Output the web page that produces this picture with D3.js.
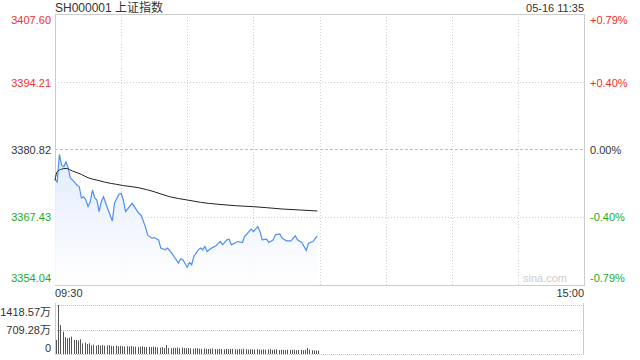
<!DOCTYPE html>
<html><head><meta charset="utf-8">
<script src="https://cdn.jsdelivr.net/npm/d3@7"></script>
<style>
html,body{margin:0;padding:0;background:#fff;}
svg{display:block;font-family:"Liberation Sans",Arial,"Noto Sans CJK SC",sans-serif;}
</style></head>
<body><svg id="c" width="640" height="360"></svg>
<script>
// ---- data ----
const title = "SH000001 上证指数";
const stamp = "05-16 11:35";
const prevClose = 3380.82;
const priceTicks = [3407.60, 3394.21, 3380.82, 3367.43, 3354.04];
const pctTicks = ["+0.79%", "+0.40%", "0.00%", "-0.40%", "-0.79%"];
const timeTicks = ["09:30", "15:00"];
const volTicks = [1418.57, 709.28, 0];
const volTickLabels = ["1418.57万", "709.28万", "0"];

// minute offsets from 09:30 and index price
const priceMinutes = [0,1,2,3,4,5,6,7,8,10,11,12,13,14,15,16,17,18,19,20,21,22,23,26,27,29,30,31,32,35,36,38,39,41,42,44,45,47,48,50,51,53,54,56,57,58,60,61,62,63,65,66,67,68,69,71,73,75,76,78,79,80,82,83,85,86,88,89,90,92,93,94,96,97,99,100,102,103,105,107,109,110,112,114,115,117,119];
const prices = [3374.97,3374.38,3379.84,3377.73,3377.39,3378.38,3377.14,3375.17,3374.77,3373.79,3373.46,3371.23,3371.49,3370.84,3369.52,3370.50,3372.81,3371.23,3370.84,3368.53,3370.50,3371.49,3370.19,3366.70,3370.19,3371.96,3372.16,3370.84,3368.53,3370.19,3369.52,3368.22,3367.88,3365.58,3363.95,3363.30,3363.41,3362.96,3361.33,3360.99,3361.33,3360.34,3359.67,3358.37,3359.22,3359.02,3357.55,3358.49,3358.04,3359.67,3360.99,3361.33,3360.99,3361.64,3360.66,3361.33,3361.78,3362.63,3361.98,3362.96,3363.10,3361.98,3362.43,3362.63,3362.43,3363.61,3364.60,3365.07,3364.60,3365.58,3364.60,3362.96,3363.10,3362.43,3362.96,3363.95,3364.14,3363.30,3362.76,3362.76,3363.75,3362.96,3362.43,3360.85,3362.31,3362.63,3363.75];

// average price line
const avgMinutes = [0,1,3,5,8,12,15,19,23,28,31,38,45,52,60,66,74,82,90,96,103,111,119];
const avgPrices = [3374.77,3376.41,3376.94,3377.08,3376.55,3375.90,3375.23,3374.77,3374.32,3373.93,3373.69,3373.26,3372.47,3371.49,3370.84,3370.38,3369.99,3369.71,3369.52,3369.32,3369.06,3368.87,3368.67];

// per-minute volume (万)
const volumes = [405,1418.57,840,646,483,454,473,502,405,405,386,425,309,328,290,310,
250,270,240,260,245,265,240,250,255,235,230,245,225,235,230,
215,225,220,235,210,215,205,210,225,205,200,210,200,215,205,
190,185,200,175,260,170,165,180,175,185,170,190,175,165,170,
160,150,165,170,155,150,160,150,145,155,160,145,140,150,145,
135,150,140,145,150,140,130,145,135,150,140,125,140,135,130,
140,130,120,135,125,130,140,120,125,135,115,125,120,110,125,
115,120,125,110,115,125,110,120,175,130,110,105,100,95];

// ---- drawing ----
const svg = d3.select("#c");
const L = 55, R = 584, T = 14, B = 285;
const VT = 305, VB = 354;
const red = "#f0302a", green = "#1ea91e", dark = "#333";

const x = d3.scaleLinear().domain([0, 240]).range([L, R]);
const y = d3.scaleLinear().domain([priceTicks[4], priceTicks[0]]).range([B, T]);
const yv = d3.scaleLinear().domain([0, volTicks[0]]).range([VB, VT]);

const defs = svg.append("defs");
const grad = defs.append("linearGradient").attr("id", "fillg").attr("x1", 0).attr("y1", 0).attr("x2", 0).attr("y2", 1);
grad.append("stop").attr("offset", "0%").attr("stop-color", "#dfe9fd").attr("stop-opacity", 0.9);
grad.append("stop").attr("offset", "100%").attr("stop-color", "#ffffff").attr("stop-opacity", 0.9);

// vertical gridlines
const gridMins = d3.range(30, 240, 30);
svg.append("g").selectAll("line").data(gridMins).join("line")
  .attr("x1", d => Math.round(x(d)) + 0.5).attr("x2", d => Math.round(x(d)) + 0.5)
  .attr("y1", T).attr("y2", B)
  .attr("stroke", "#cfcfcf").attr("stroke-dasharray", "1,2");

// horizontal gridlines
svg.append("g").selectAll("line").data(priceTicks.slice(1, 4)).join("line")
  .attr("x1", L).attr("x2", R)
  .attr("y1", d => Math.round(y(d)) + 0.5).attr("y2", d => Math.round(y(d)) + 0.5)
  .attr("stroke", d => d === prevClose ? "#bbbbbb" : "#cfcfcf")
  .attr("stroke-dasharray", d => d === prevClose ? "3,2" : "1,2");

// frame
svg.append("rect").attr("x", L + 0.5).attr("y", T + 0.5).attr("width", R - L).attr("height", B - T)
  .attr("fill", "none").attr("stroke", "#cccccc");

// area + line
const pts = priceMinutes.map((m, i) => [m, prices[i]]);
svg.append("path").datum(pts)
  .attr("d", d3.area().x(d => x(d[0])).y0(B).y1(d => y(d[1])))
  .attr("fill", "url(#fillg)");
svg.append("path").datum(pts)
  .attr("d", d3.line().x(d => x(d[0])).y(d => y(d[1])))
  .attr("fill", "none").attr("stroke", "#4f8ef5").attr("stroke-width", 1.2);

const apts = avgMinutes.map((m, i) => [m, avgPrices[i]]);
svg.append("path").datum(apts)
  .attr("d", d3.line().curve(d3.curveMonotoneX).x(d => x(d[0])).y(d => y(d[1])))
  .attr("fill", "none").attr("stroke", "#222").attr("stroke-width", 1);

// watermark
svg.append("text").attr("x", 545).attr("y", 278).attr("text-anchor", "middle")
  .attr("dominant-baseline", "central").attr("font-size", 11).attr("fill", "#cdcdcd").text("sina.com");

// left price labels
const colorFor = i => i < 2 ? red : (i === 2 ? dark : green);
const offs = [6, 1, 0, 0, -7];
svg.append("g").selectAll("text").data(priceTicks).join("text")
  .attr("x", 51).attr("y", (d, i) => y(d) + offs[i])
  .attr("text-anchor", "end").attr("dominant-baseline", "central")
  .attr("font-size", 11).attr("fill", (d, i) => colorFor(i))
  .text(d => d.toFixed(2));
// right pct labels
svg.append("g").selectAll("text").data(pctTicks).join("text")
  .attr("x", 590).attr("y", (d, i) => y(priceTicks[i]) + offs[i])
  .attr("dominant-baseline", "central")
  .attr("font-size", 11).attr("fill", (d, i) => colorFor(i))
  .text(d => d);

// title & stamp
svg.append("text").attr("x", 55).attr("y", 8).attr("dominant-baseline", "central")
  .attr("font-size", 12).attr("fill", dark).text(title);
svg.append("text").attr("x", 584).attr("y", 8).attr("text-anchor", "end").attr("dominant-baseline", "central")
  .attr("font-size", 11).attr("fill", dark).text(stamp);

// time labels
svg.append("text").attr("x", x(0)).attr("y", 293).attr("dominant-baseline", "central")
  .attr("font-size", 11).attr("fill", dark).text(timeTicks[0]);
svg.append("text").attr("x", x(240)).attr("y", 293).attr("text-anchor", "end").attr("dominant-baseline", "central")
  .attr("font-size", 11).attr("fill", dark).text(timeTicks[1]);

// volume panel
svg.append("g").selectAll("line").data(volTicks).join("line")
  .attr("x1", L).attr("x2", R - 1)
  .attr("y1", d => Math.round(yv(d)) + 0.5).attr("y2", d => Math.round(yv(d)) + 0.5)
  .attr("stroke", "#c8c8c8").attr("stroke-dasharray", "1,1");
svg.append("line").attr("x1", L + 0.5).attr("x2", L + 0.5).attr("y1", VT - 2).attr("y2", VB + 1).attr("stroke", "#cccccc");
svg.append("line").attr("x1", R - 0.5).attr("x2", R - 0.5).attr("y1", VT - 2).attr("y2", VB + 1).attr("stroke", "#cccccc");

svg.append("g").selectAll("rect").data(volumes).join("rect")
  .attr("x", (d, i) => Math.round(x(i)) + 1).attr("width", 1)
  .attr("y", d => yv(d)).attr("height", d => VB - yv(d))
  .attr("fill", "#555");

const voffs = [7, 0, -6];
svg.append("g").selectAll("text").data(volTicks).join("text")
  .attr("x", 51).attr("y", (d, i) => yv(d) + voffs[i])
  .attr("text-anchor", "end").attr("dominant-baseline", "central")
  .attr("font-size", 11).attr("fill", dark)
  .text((d, i) => volTickLabels[i]);
</script></body></html>
